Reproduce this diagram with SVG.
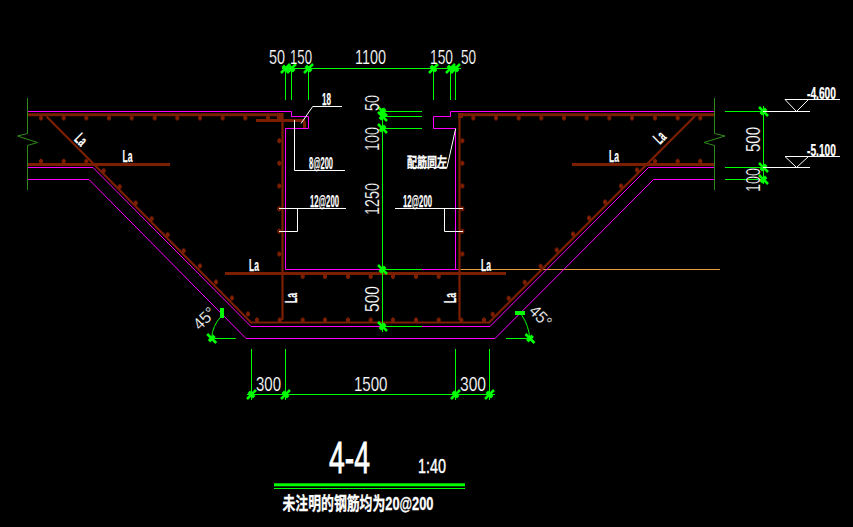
<svg xmlns="http://www.w3.org/2000/svg" xmlns:xlink="http://www.w3.org/1999/xlink" width="853" height="527" viewBox="0 0 853 527">
<style>
.m{fill:none;stroke:#ff00ff;stroke-width:1}
.r{fill:none;stroke:#7c1e00;stroke-width:3}
.r2{fill:none;stroke:#7c1e00;stroke-width:2.2}
.g{fill:none;stroke:#00ff00;stroke-width:1}
.dg{fill:none;stroke:#2f8a1c;stroke-width:1}
.w{fill:none;stroke:#fff;stroke-width:1}
.tk{fill:none;stroke:#00ff00;stroke-width:2.6}
.t{fill:#fff;stroke:#000;stroke-width:.2;font-family:"Liberation Sans",Arial,sans-serif;font-size:20px}
.b{fill:#fff;stroke:#fff;stroke-width:.25;font-family:"Liberation Sans",Arial,sans-serif;font-weight:700;font-size:16.5px}
.c{fill:#fff;stroke:#fff;stroke-width:.3;font-family:"Liberation Sans","Noto Sans CJK SC",sans-serif;font-weight:700;font-size:16px}
</style>
<defs>
<path id="d" d="M-2 -1.5H-1V-2.5H1V-1.5H2V1.5H1V2.5H-1V1.5H-2Z" fill="#7c1e00"/>
<path id="s" class="tk" d="M-4.5 4.5L4.5 -4.5M-3 -0.5L-0.5 -3M0.5 3L3 0.5"/>
<path id="u" class="tk" d="M-4.5 -4.5L4.5 4.5M0.5 -3L3 -0.5M-3 0.5L-0.5 3"/>
</defs>
<rect width="853" height="527" fill="#000"/>
<g id="concrete">
<path class="m" d="M28 111.5H291.5V116.5H308.5V128.5H285.5V269.5H382"/>
<path class="m" d="M422 269.5H458"/>
<path d="M458 269.5H720" fill="none" stroke="#e89a3c" stroke-width="1"/>
<path class="m" d="M714 111.5H450.5V116.5H433.5V128.5H455.5V269.5"/>
<path class="m" d="M28 167.5H93L251 326.5H382M422 326.5H490L648.5 167.5H714"/>
<path class="m" d="M28 179.5H89L246 338.5H495L653.5 179.5H714"/>
</g>
<g id="breaks">
<path class="dg" d="M27.5 98V133.5L17.5 136L37.5 142.5L27.5 145.5V190"/>
<path class="dg" d="M714.5 98V133.5L725 136L704 142.5L714.5 145.5V190"/>
</g>
<g id="rebar">
<path class="r" d="M28 114.7H283M256 120.5H305"/>
<path class="r" d="M458 114.7H714"/>
<path class="r2" d="M282.5 113V320M459.5 113V320"/>
<path class="r" d="M28 164.5H170M572 164.5H714M225 273.5H506"/>
<path class="r2" d="M46.5 116.5L251 322.5H489L695 116"/>
<rect x="277" y="113" width="6" height="6" fill="#7c1e00"/>
<rect x="303" y="121" width="3" height="7" fill="#7c1e00"/>
<rect x="458" y="113" width="5" height="5" fill="#7c1e00"/>
</g>
<g id="bars">
<use xlink:href="#d" href="#d" x="41" y="118"/><use xlink:href="#d" href="#d" x="63.7" y="118"/><use xlink:href="#d" href="#d" x="86.3" y="118"/><use xlink:href="#d" href="#d" x="109" y="118"/><use xlink:href="#d" href="#d" x="131.7" y="118"/><use xlink:href="#d" href="#d" x="154.7" y="118"/><use xlink:href="#d" href="#d" x="177.3" y="118"/><use xlink:href="#d" href="#d" x="200" y="118"/><use xlink:href="#d" href="#d" x="222.7" y="118"/><use xlink:href="#d" href="#d" x="245.3" y="118"/><use xlink:href="#d" href="#d" x="268" y="118"/>
<use xlink:href="#d" href="#d" x="473.3" y="118"/><use xlink:href="#d" href="#d" x="496" y="118"/><use xlink:href="#d" href="#d" x="518.7" y="118"/><use xlink:href="#d" href="#d" x="541.3" y="118"/><use xlink:href="#d" href="#d" x="564" y="118"/><use xlink:href="#d" href="#d" x="586.7" y="118"/><use xlink:href="#d" href="#d" x="609.3" y="118"/><use xlink:href="#d" href="#d" x="632" y="118"/><use xlink:href="#d" href="#d" x="655" y="118"/><use xlink:href="#d" href="#d" x="677.7" y="118"/><use xlink:href="#d" href="#d" x="700.3" y="118"/>
<use xlink:href="#d" href="#d" x="41" y="161.3"/><use xlink:href="#d" href="#d" x="63.7" y="161.3"/><use xlink:href="#d" href="#d" x="86.3" y="161.3"/><use xlink:href="#d" href="#d" x="655" y="161.3"/><use xlink:href="#d" href="#d" x="677.7" y="161.3"/><use xlink:href="#d" href="#d" x="700.3" y="161.3"/>
<use xlink:href="#d" href="#d" x="103.7" y="170.7"/><use xlink:href="#d" href="#d" x="119.7" y="186.7"/><use xlink:href="#d" href="#d" x="135.7" y="203"/><use xlink:href="#d" href="#d" x="151.7" y="218.7"/><use xlink:href="#d" href="#d" x="167.7" y="234.7"/><use xlink:href="#d" href="#d" x="183.7" y="250.7"/><use xlink:href="#d" href="#d" x="200" y="266"/><use xlink:href="#d" href="#d" x="216" y="282"/><use xlink:href="#d" href="#d" x="232" y="298"/><use xlink:href="#d" href="#d" x="248" y="314"/>
<use xlink:href="#d" href="#d" x="492.7" y="314.3"/><use xlink:href="#d" href="#d" x="508.7" y="298.3"/><use xlink:href="#d" href="#d" x="524.7" y="282.3"/><use xlink:href="#d" href="#d" x="540.7" y="266.3"/><use xlink:href="#d" href="#d" x="556.7" y="250"/><use xlink:href="#d" href="#d" x="573" y="234"/><use xlink:href="#d" href="#d" x="589" y="218"/><use xlink:href="#d" href="#d" x="605" y="202"/><use xlink:href="#d" href="#d" x="621" y="186"/><use xlink:href="#d" href="#d" x="637" y="170"/>
<use xlink:href="#d" href="#d" x="279.3" y="140.7"/><use xlink:href="#d" href="#d" x="279.3" y="163.3"/><use xlink:href="#d" href="#d" x="279.3" y="186"/><use xlink:href="#d" href="#d" x="279.3" y="208.7"/><use xlink:href="#d" href="#d" x="279.3" y="231.3"/><use xlink:href="#d" href="#d" x="279.3" y="254"/>
<use xlink:href="#d" href="#d" x="462.3" y="140.7"/><use xlink:href="#d" href="#d" x="462.3" y="163.3"/><use xlink:href="#d" href="#d" x="462.3" y="186"/><use xlink:href="#d" href="#d" x="462.3" y="208.7"/><use xlink:href="#d" href="#d" x="462.3" y="231.3"/><use xlink:href="#d" href="#d" x="462.3" y="254"/>
<use xlink:href="#d" href="#d" x="302.7" y="276.5"/><use xlink:href="#d" href="#d" x="325" y="276.5"/><use xlink:href="#d" href="#d" x="348" y="276.5"/><use xlink:href="#d" href="#d" x="370.7" y="276.5"/><use xlink:href="#d" href="#d" x="393" y="276.5"/><use xlink:href="#d" href="#d" x="416" y="276.5"/><use xlink:href="#d" href="#d" x="438.7" y="276.5"/>
<use xlink:href="#d" href="#d" x="257" y="320"/><use xlink:href="#d" href="#d" x="279.7" y="320"/><use xlink:href="#d" href="#d" x="302.7" y="320"/><use xlink:href="#d" href="#d" x="325" y="320"/><use xlink:href="#d" href="#d" x="348" y="320"/><use xlink:href="#d" href="#d" x="370.7" y="320"/><use xlink:href="#d" href="#d" x="393" y="320"/><use xlink:href="#d" href="#d" x="416" y="320"/><use xlink:href="#d" href="#d" x="438.7" y="320"/><use xlink:href="#d" href="#d" x="461.3" y="320"/><use xlink:href="#d" href="#d" x="484" y="320"/>
</g>
<g id="dimensions">
<path class="g" d="M282 68.5H461M285.5 68V100M291.5 68V100M308.5 68V100M433.5 68V100M450.5 68V100M455.5 68V100"/>
<path class="g" d="M382.5 108V332M382 111.5H422M382 116.5H422M382 128.5H422M382 269.5H422M382 326.5H422"/>
<path class="g" d="M763.5 106V184M725 111.5H763M725 167.5H763M725 179.5H763"/>
<path class="g" d="M247 394.5H495M251.5 349V400M285.5 349V400M455.5 349V400M489.5 349V400"/>
<path class="g" d="M221.7 315.7Q212 326 211.7 338.5H235.7M521.7 315Q529 326 529.7 338.5H506"/>
<rect x="220" y="308" width="4" height="10" fill="#00ff00"/>
<rect x="515" y="311" width="10" height="4" fill="#00ff00"/>
<use xlink:href="#s" href="#s" x="285.5" y="68.5"/><use xlink:href="#s" href="#s" x="291.5" y="68.5"/><use xlink:href="#s" href="#s" x="308.5" y="68.5"/><use xlink:href="#s" href="#s" x="433.5" y="68.5"/><use xlink:href="#s" href="#s" x="450.5" y="68.5"/><use xlink:href="#s" href="#s" x="455.5" y="68.5"/>
<use xlink:href="#u" href="#u" x="382.5" y="111.5"/><use xlink:href="#u" href="#u" x="382.5" y="116.5"/><use xlink:href="#u" href="#u" x="382.5" y="128.5"/><use xlink:href="#u" href="#u" x="382.5" y="269.5"/><use xlink:href="#u" href="#u" x="382.5" y="326.5"/>
<use xlink:href="#u" href="#u" x="763.5" y="111.5"/><use xlink:href="#u" href="#u" x="763.5" y="167.5"/><use xlink:href="#u" href="#u" x="763.5" y="179.5"/>
<use xlink:href="#s" href="#s" x="251.5" y="394.5"/><use xlink:href="#s" href="#s" x="285.5" y="394.5"/><use xlink:href="#s" href="#s" x="455.5" y="394.5"/><use xlink:href="#s" href="#s" x="489.5" y="394.5"/>
<use xlink:href="#u" href="#u" x="211.7" y="338.5"/><use xlink:href="#u" href="#u" x="530" y="338.5"/>
</g>
<g id="leaders">
<path class="w" d="M763 111.5H810M763 167.5H810"/>
<path class="w" d="M785 99.5H840M785 99.5L796.5 111.5L808.5 99.5M785 156.5H840M785 156.5L796.5 167.5L808.5 156.5"/>
<path class="w" d="M342 106.5H312.7L301 123.5"/>
<path class="w" d="M294.5 120V170.5H345"/>
<path class="w" d="M279 208.5H346M297.5 208.5V231.5H279"/>
<path class="w" d="M395 208.5H463M444.5 208.5V231.5H463"/>
<path class="w" d="M455.7 128.5L447 167.5H410"/>
</g>
<g id="labels">
<text class="t" transform="translate(269 63.5) scale(.72 1)">50</text>
<text class="t" transform="translate(290 63.5) scale(.66 1)">150</text>
<text class="t" x="355" y="63.5" textLength="31" lengthAdjust="spacingAndGlyphs">1100</text>
<text class="t" transform="translate(430 63.5) scale(.69 1)">150</text>
<text class="t" transform="translate(461 63.5) scale(.68 1)">50</text>
<text class="t" transform="translate(378.5 111) rotate(-90)" textLength="16" lengthAdjust="spacingAndGlyphs">50</text>
<text class="t" transform="translate(378.5 151) rotate(-90)" textLength="24" lengthAdjust="spacingAndGlyphs">100</text>
<text class="t" transform="translate(378.5 215) rotate(-90)" textLength="32" lengthAdjust="spacingAndGlyphs">1250</text>
<text class="t" transform="translate(378.5 312) rotate(-90)" textLength="26" lengthAdjust="spacingAndGlyphs">500</text>
<text class="t" transform="translate(760 152) rotate(-90)" textLength="25" lengthAdjust="spacingAndGlyphs">500</text>
<text class="t" transform="translate(760 192) rotate(-90)" textLength="24" lengthAdjust="spacingAndGlyphs">100</text>
<text class="t" x="256" y="391" textLength="25" lengthAdjust="spacingAndGlyphs">300</text>
<text class="t" x="354" y="391" textLength="33.5" lengthAdjust="spacingAndGlyphs">1500</text>
<text class="t" x="460" y="391" textLength="26" lengthAdjust="spacingAndGlyphs">300</text>
<text class="t" transform="translate(200 331) rotate(-45)" textLength="24" lengthAdjust="spacingAndGlyphs" style="font-size:17px">45°</text>
<text class="t" transform="translate(528 312) rotate(45)" textLength="24" lengthAdjust="spacingAndGlyphs" style="font-size:17px">45°</text>
<text class="b" x="807" y="98.5" textLength="29" lengthAdjust="spacingAndGlyphs">-4.600</text>
<text class="b" x="807" y="155.5" textLength="29" lengthAdjust="spacingAndGlyphs">-5.100</text>
<text class="b" x="322" y="104.5" textLength="9" lengthAdjust="spacingAndGlyphs">18</text>
<text class="b" x="309" y="168.5" textLength="24" lengthAdjust="spacingAndGlyphs">8@200</text>
<text class="b" x="310" y="206.5" textLength="29" lengthAdjust="spacingAndGlyphs">12@200</text>
<text class="b" x="403" y="206.5" textLength="29" lengthAdjust="spacingAndGlyphs">12@200</text>
<text class="c" x="407" y="167" textLength="40" lengthAdjust="spacingAndGlyphs" style="font-size:14px">配筋同左</text>
<text class="b" x="122.5" y="162" textLength="10" lengthAdjust="spacingAndGlyphs">La</text>
<text class="b" x="609" y="162" textLength="10" lengthAdjust="spacingAndGlyphs">La</text>
<text class="b" x="249" y="271" textLength="10" lengthAdjust="spacingAndGlyphs">La</text>
<text class="b" x="481" y="271" textLength="10" lengthAdjust="spacingAndGlyphs">La</text>
<text class="b" transform="translate(73.5 140) rotate(45)" textLength="10" lengthAdjust="spacingAndGlyphs">La</text>
<text class="b" transform="translate(660 145) rotate(-45)" textLength="10" lengthAdjust="spacingAndGlyphs">La</text>
<text class="b" transform="translate(297 303) rotate(-90)" textLength="10" lengthAdjust="spacingAndGlyphs">La</text>
<text class="b" transform="translate(456 303) rotate(-90)" textLength="10" lengthAdjust="spacingAndGlyphs">La</text>
</g>
<g id="title">
<text x="329" y="472.5" textLength="41" lengthAdjust="spacingAndGlyphs" style="fill:#fff;stroke:#fff;stroke-width:.8;font-family:'Liberation Sans',sans-serif;font-size:45px">4-4</text>
<text x="418" y="472.5" textLength="28" lengthAdjust="spacingAndGlyphs" style="fill:#fff;stroke:#fff;stroke-width:.4;font-family:'Liberation Sans',sans-serif;font-size:20px">1:40</text>
<rect x="274" y="483.3" width="191" height="3" fill="#00ff00"/>
<rect x="274" y="488" width="191" height="1" fill="#00ff00"/>
<text class="c" x="282.5" y="510" textLength="151" lengthAdjust="spacingAndGlyphs" style="font-size:18px">未注明的钢筋均为20@200</text>
</g>
</svg>
